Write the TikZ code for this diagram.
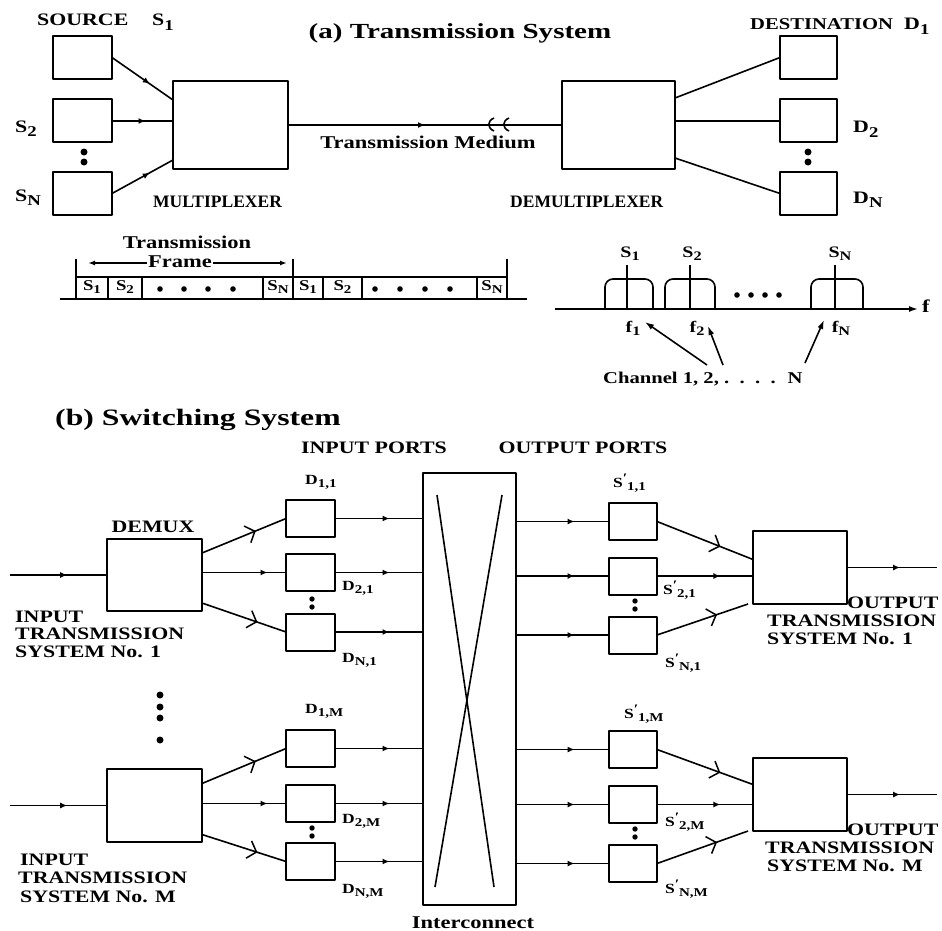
\documentclass[tikz,border=0pt]{standalone}
\usepackage{fontspec}
\setmainfont{Liberation Serif}[FakeStretch=1.25]
\newfontfamily\narrowfont{Liberation Serif}
\newfontfamily\titlefont{Liberation Serif}[FakeStretch=1.35]
\usetikzlibrary{arrows.meta,decorations.markings,calc}
\newcommand\lab{\bfseries\fontsize{17.5}{19}\selectfont}
\newcommand\plab{\bfseries\fontsize{14}{15}\selectfont}
\newcommand\sbs[2][13]{\raisebox{-0.5ex}{\fontsize{#1}{#1}\selectfont #2}}
\newcommand\psb[2][12]{\raisebox{0.7ex}{\fontsize{13}{13}\selectfont ′}\kern-0.5pt\raisebox{-0.5ex}{\fontsize{#1}{#1}\selectfont #2}}
\tikzset{
  box/.style={draw, line width=2pt, inner sep=0pt, outer sep=0pt},
  pbox/.style={box, minimum width=49pt, minimum height=37pt},
  obox/.style={box, minimum width=48pt, minimum height=37pt},
  sbox/.style={box, minimum width=59pt, minimum height=43pt},
  ln/.style={line width=1.6pt},
  lbl/.style={font=\lab, inner sep=0pt},
  plbl/.style={font=\plab, inner sep=0pt, anchor=base west},
  clbl/.style={font=\bfseries\fontsize{15}{15}\selectfont, inner sep=0pt, anchor=base},
  dotmid/.style={postaction={decorate}, decoration={markings, mark=at position #1 with {\arrow{Latex[length=7pt,width=6pt]}}}},
  dotmid/.default=0.5,
  chevmid/.style={postaction={decorate}, decoration={markings, mark=at position #1 with {\arrow[line width=1.5pt]{Straight Barb[length=8pt,width=18pt]}}}},
  chevmid/.default=0.65,
}
\begin{document}
\begin{tikzpicture}[x=1pt,y=-1pt,line join=round]
\fill[white] (0,0) rectangle (942,931);
% ================= (a) =================
\node[anchor=base, inner sep=0pt, font=\titlefont\bfseries\fontsize{21.5}{24}\selectfont] (ta) at (460,39) {(a) Transmission System};
\node[sbox] (s1) at (82.5,57.5) {};
\node[sbox] (s2) at (82.5,121) {};
\node[sbox] (sN) at (82.5,193.5) {};
\node[box, minimum width=115pt, minimum height=88pt] (mux) at (230.5,125) {};
\node[box, minimum width=113pt, minimum height=88pt] (demux) at (618.5,125) {};
\node[box, minimum width=57pt, minimum height=43pt] (d1) at (808.5,57.5) {};
\node[box, minimum width=57pt, minimum height=43pt] (d2) at (808.5,121) {};
\node[box, minimum width=57pt, minimum height=43pt] (dN) at (808.5,193.5) {};
\draw[ln, dotmid=0.62] (s1.east) -- ([yshift=25pt]mux.west);
\draw[ln, dotmid=0.55] (s2.east) -- (s2.east -| mux.west);
\draw[ln, dotmid=0.62] (sN.east) -- ([yshift=-35pt]mux.west);
\draw[ln, dotmid=0.5] (mux) -- (demux);
\draw[ln] (494,118) .. controls (487,121) and (487,128) .. (494,131);
\draw[ln] (509,118) .. controls (502,121) and (502,128) .. (509,131);
\draw[ln] ([yshift=27pt]demux.east) -- (d1.west);
\draw[ln] (d2.west -| demux.east) -- (d2.west);
\draw[ln] ([yshift=-33pt]demux.east) -- (dN.west);
\fill (84,152) circle (3.5); \fill (84,162) circle (3.5);
\fill (808,152) circle (3.5); \fill (808,162) circle (3.5);
\node[lbl, anchor=base west] (srcl) at (37,26) {SOURCE};
\node[lbl, anchor=base west] (s1l) at (152,26) {S\sbs[15]{1}};
\node[lbl, anchor=base west] (s2l) at (15,132) {S\sbs[15]{2}};
\node[lbl, anchor=base west] (sNl) at (15,201) {S\sbs[15]{N}};
\node[inner sep=0pt, anchor=base west, font=\narrowfont\bfseries\fontsize{17.5}{19}\selectfont] (muxl) at (153,207) {MULTIPLEXER};
\node[inner sep=0pt, anchor=base west, font=\narrowfont\bfseries\fontsize{17.5}{19}\selectfont] (demuxl) at (510,207) {DEMULTIPLEXER};
\node[lbl, anchor=base, font=\bfseries\fontsize{18}{20}\selectfont] (medl) at (428,148) {Transmission Medium};
\node[lbl, anchor=base west, font=\bfseries\fontsize{16.5}{18}\selectfont] (dstl) at (750,30) {DESTINATION};
\node[lbl, anchor=base west] (d1l) at (904,30) {D\sbs[15]{1}};
\node[lbl, anchor=base west] (d2l) at (853,133) {D\sbs[15]{2}};
\node[lbl, anchor=base west] (dNl) at (853,203) {D\sbs[15]{N}};
% frame
\draw[ln] (60,299) -- (527,299);
\draw[ln] (76,277) -- (507,277);
\foreach \x in {76,293,507} \draw[line width=1.8pt] (\x,259) -- (\x,300);
\foreach \x in {108,142,263,323,362,477} \draw[ln] (\x,277) -- (\x,299);
\node[clbl] (c1) at (92,290) {S\sbs[12]{1}};
\node[clbl] (c2) at (125,290) {S\sbs[12]{2}};
\node[clbl] (c3) at (278,290) {S\sbs[12]{N}};
\node[clbl] (c4) at (308,290) {S\sbs[12]{1}};
\node[clbl] (c5) at (342.5,290) {S\sbs[12]{2}};
\node[clbl] (c6) at (492,290) {S\sbs[12]{N}};
\foreach \x in {160,184,208,233,375,400,425,450} \fill (\x,289) circle (2.8);
\coordinate (fra) at (88,263); \coordinate (frb) at (287,263);
\draw[ln, {Latex[length=7pt,width=5pt]}-{Latex[length=7pt,width=5pt]}] (fra) -- (frb);
\node[lbl, anchor=base, fill=white, inner sep=1pt, font=\bfseries\fontsize{18}{20}\selectfont] (frl) at (180,267) {Frame};
\node[lbl, anchor=base, font=\bfseries\fontsize{18}{20}\selectfont] (trl) at (187,248) {Transmission};
% spectrum
\coordinate (fa) at (555,309); \coordinate (fb) at (918,309);
\draw[ln, -{Latex[length=9pt,width=6pt]}] (fa) -- (fb);
\foreach \a/\b/\c in {605/653/627, 665/715/690, 811/863/835} {
  \draw[ln, rounded corners=8pt] (\a,309) -- (\a,279) -- (\b,279) -- (\b,309);
  \draw[ln] (\c,309) -- (\c,265);
}
\foreach \x in {737,751,765,779} \fill (\x,295) circle (2.8);
\node[clbl, font=\bfseries\fontsize{16}{16}\selectfont] (fs1) at (630,257) {S\sbs[13]{1}};
\node[clbl, font=\bfseries\fontsize{16}{16}\selectfont] (fs2) at (692,257) {S\sbs[13]{2}};
\node[clbl, font=\bfseries\fontsize{16}{16}\selectfont] (fsN) at (840,257) {S\sbs[13]{N}};
\node[clbl, font=\bfseries\fontsize{16}{16}\selectfont] (f1l) at (633,332) {f\sbs[13]{1}};
\node[clbl, font=\bfseries\fontsize{16}{16}\selectfont] (f2l) at (697,332) {f\sbs[13]{2}};
\node[clbl, font=\bfseries\fontsize{16}{16}\selectfont] (fNl) at (841,332) {f\sbs[13]{N}};
\node[clbl, anchor=base west, font=\bfseries\fontsize{18}{18}\selectfont] (fl) at (922,312) {f};
\node[lbl, anchor=base west, font=\bfseries\fontsize{16.5}{18}\selectfont] (chan) at (603,383) {Channel 1, 2, .\ \ .\ \ .\ \ . \ N};
\coordinate (t1) at (707,365); \coordinate (tip1) at (645,322);
\coordinate (t2) at (723,365); \coordinate (tip2) at (708,326);
\coordinate (tN) at (805,363); \coordinate (tipN) at (824,320);
\draw[ln, -{Latex[length=9pt,width=6pt]}] (t1) -- (tip1);
\draw[ln, -{Latex[length=9pt,width=6pt]}] (t2) -- (tip2);
\draw[ln, -{Latex[length=9pt,width=6pt]}] (tN) -- (tipN);
% ================= (b) =================
\node[anchor=base west, inner sep=0pt, font=\titlefont\bfseries\fontsize{23.5}{26}\selectfont] (tb) at (55,425) {(b) Switching System};
\node[lbl, anchor=base] (ipl) at (374,453) {INPUT PORTS};
\node[lbl, anchor=base] (opl) at (583,453) {OUTPUT PORTS};
\node[lbl, anchor=base] (dmxl) at (153,532) {DEMUX};
\node[box, minimum width=95pt, minimum height=72pt] (dm1) at (154.5,575) {};
\node[box, minimum width=95pt, minimum height=73pt] (dm2) at (154.5,805.5) {};
\node[pbox] (d11) at (310.5,518.5) {};
\node[pbox] (d21) at (310.5,572.5) {};
\node[pbox] (dn1) at (310.5,632) {};
\node[pbox] (d1m) at (310.5,748.5) {};
\node[pbox] (d2m) at (310.5,803.5) {};
\node[pbox] (dnm) at (310.5,861.5) {};
\node[box, minimum width=93pt, minimum height=432pt] (ic) at (469.5,689) {};
\node[obox] (o11) at (633,521.5) {};
\node[obox] (o21) at (633,576) {};
\node[obox] (on1) at (633,635) {};
\node[obox] (o1m) at (633,749.5) {};
\node[obox] (o2m) at (633,804.5) {};
\node[obox] (onm) at (633,863.5) {};
\node[box, minimum width=94pt, minimum height=73pt] (mx1) at (800,567.5) {};
\node[box, minimum width=94pt, minimum height=73pt] (mx2) at (800,794.5) {};
% inputs
\coordinate (in1) at (10,575); \coordinate (in2) at (10,805.5);
\draw[ln, dotmid=0.59] (in1) -- (dm1.west);
\draw[ln, dotmid=0.59] (in2) -- (dm2.west);
\draw[ln, chevmid=0.64] ([yshift=22pt]dm1.east) -- (d11.west);
\draw[ln, dotmid=0.78] (dm1.east |- d21) -- (d21.west);
\draw[ln, chevmid=0.66] ([yshift=-28pt]dm1.east) -- (dn1.west);
\draw[ln, chevmid=0.64] ([yshift=22pt]dm2.east) -- (d1m.west);
\draw[ln, dotmid=0.78] (dm2.east |- d2m) -- (d2m.west);
\draw[ln, chevmid=0.66] ([yshift=-29pt]dm2.east) -- (dnm.west);
\foreach \n in {d11,d21,dn1,d1m,d2m,dnm} \draw[ln, dotmid=0.62] (\n.east) -- (\n.east -| ic.west);
\foreach \n in {o11,o21,on1,o1m,o2m,onm} \draw[ln, dotmid=0.63] (\n.west -| ic.east) -- (\n.west);
\draw[ln] ($(ic.north west)+(14,22)$) -- ($(ic.north west)+(71,414)$);
\draw[ln] ($(ic.north west)+(79,22)$) -- ($(ic.north west)+(12,414)$);
\draw[ln, chevmid=0.66] (o11.east) -- ([yshift=8pt]mx1.west);
\draw[ln, dotmid=0.66] (o21.east) -- (o21.east -| mx1.west);
\draw[ln, chevmid=0.66] (on1.east) -- ([xshift=-5pt]mx1.south west);
\draw[ln, chevmid=0.66] (o1m.east) -- ([yshift=10pt]mx2.west);
\draw[ln, dotmid=0.66] (o2m.east) -- (o2m.east -| mx2.west);
\draw[ln, chevmid=0.66] (onm.east) -- ([xshift=-5pt]mx2.south west);
\coordinate (out1) at (937,567.5); \coordinate (out2) at (937,794.5);
\draw[ln, dotmid=0.59] (mx1.east) -- (out1);
\draw[ln, dotmid=0.59] (mx2.east) -- (out2);
% dots
\fill (312,599) circle (2.7); \fill (312,607) circle (2.7);
\fill (312,828) circle (2.7); \fill (312,836) circle (2.7);
\fill (635,601) circle (2.7); \fill (635,609) circle (2.7);
\fill (635,829) circle (2.7); \fill (635,837) circle (2.7);
\foreach \y in {695,707,718,740} \fill (160,\y) circle (3.5);
% port labels
\node[plbl] (d11l) at (305,484) {D\sbs[12]{1,1}};
\node[plbl] (d21l) at (342,590) {D\sbs[12]{2,1}};
\node[plbl] (dn1l) at (342,662) {D\sbs[12]{N,1}};
\node[plbl] (d1ml) at (305,713) {D\sbs[12]{1,M}};
\node[plbl] (d2ml) at (342,823) {D\sbs[12]{2,M}};
\node[plbl] (dnml) at (342,893) {D\sbs[12]{N,M}};
\node[plbl] (o11l) at (613,487) {S\psb{1,1}};
\node[plbl] (o21l) at (663,594) {S\psb{2,1}};
\node[plbl] (on1l) at (665,667) {S\psb{N,1}};
\node[plbl] (o1ml) at (624,718) {S\psb{1,M}};
\node[plbl] (o2ml) at (665,826) {S\psb{2,M}};
\node[plbl] (onml) at (665,893) {S\psb{N,M}};
\node[lbl, anchor=base, font=\bfseries\fontsize{18}{20}\selectfont] (icl) at (473,928) {Interconnect};
% system labels
\node[lbl, anchor=base west] (i1a) at (15,622) {INPUT};
\node[lbl, anchor=base west] (i1b) at (15,639) {TRANSMISSION};
\node[lbl, anchor=base west] (i1c) at (15,657) {SYSTEM No. 1};
\node[lbl, anchor=base west] (iMa) at (20,865) {INPUT};
\node[lbl, anchor=base west] (iMb) at (18,883) {TRANSMISSION};
\node[lbl, anchor=base west] (iMc) at (20,902) {SYSTEM No. M};
\node[lbl, anchor=base west] (o1a) at (847,608) {OUTPUT};
\node[lbl, anchor=base west] (o1b) at (767,626) {TRANSMISSION};
\node[lbl, anchor=base west] (o1c) at (767,644) {SYSTEM No. 1};
\node[lbl, anchor=base west] (oMa) at (847,835) {OUTPUT};
\node[lbl, anchor=base west] (oMb) at (765,853) {TRANSMISSION};
\node[lbl, anchor=base west] (oMc) at (767,871) {SYSTEM No. M};
\end{tikzpicture}
\end{document}
